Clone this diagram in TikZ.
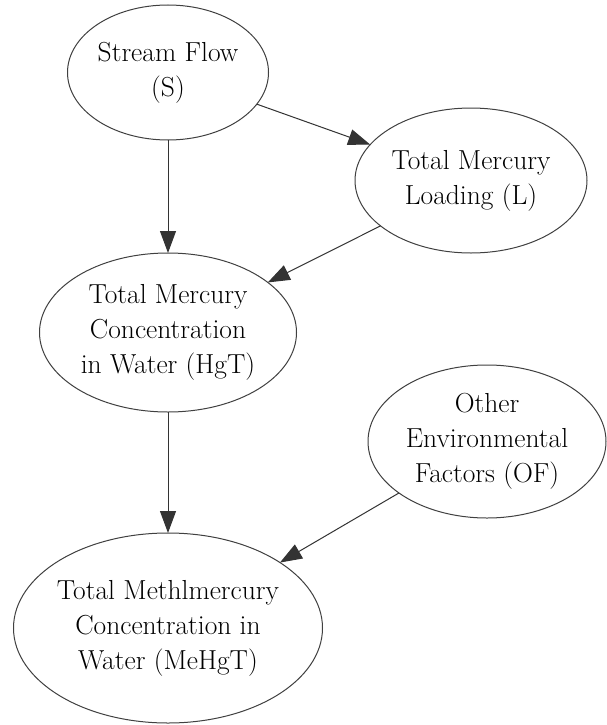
\documentclass[tikz,border=0pt]{standalone}
\usetikzlibrary{shapes.geometric,arrows.meta}
\begin{document}
\begin{tikzpicture}[x=1pt,y=-1pt,
  var/.style={ellipse, draw=black!75, line width=1pt, inner sep=0pt, outer sep=0pt,
    align=center, font=\rmfamily\fontsize{27.5}{35}\selectfont},
  link/.style={draw=black!80, line width=1pt, -{Triangle[length=22pt,width=16pt]}}
]
\path[fill=white] (0,0) rectangle (606,725);
\useasboundingbox (0,0) rectangle (606,725);

% variables of the network
\node[var, minimum width=201pt, minimum height=135pt] (S) at (168,72.5) {Stream Flow\\(S)};
\node[var, minimum width=232pt, minimum height=145pt] (L) at (471,180.5) {Total Mercury\\Loading (L)};
\node[var, minimum width=257pt, minimum height=159pt] (HgT) at (168,332.5) {Total Mercury\\Concentration\\in Water (HgT)};
\node[var, minimum width=238pt, minimum height=153pt] (OF) at (487,441.5) {Other\\Environmental\\Factors (OF)};
\node[var, inner xsep=-6pt, minimum width=309pt, minimum height=190pt] (MeHgT) at (168,628) {Total Methlmercury\\Concentration in\\Water (MeHgT)};

% dependencies
\draw[link] (S) -- (L);
\draw[link] (S) -- (HgT);
\draw[link] (L) -- (HgT);
\draw[link] (HgT) -- (MeHgT);
\draw[link] (OF) -- (MeHgT);
\end{tikzpicture}
\end{document}
